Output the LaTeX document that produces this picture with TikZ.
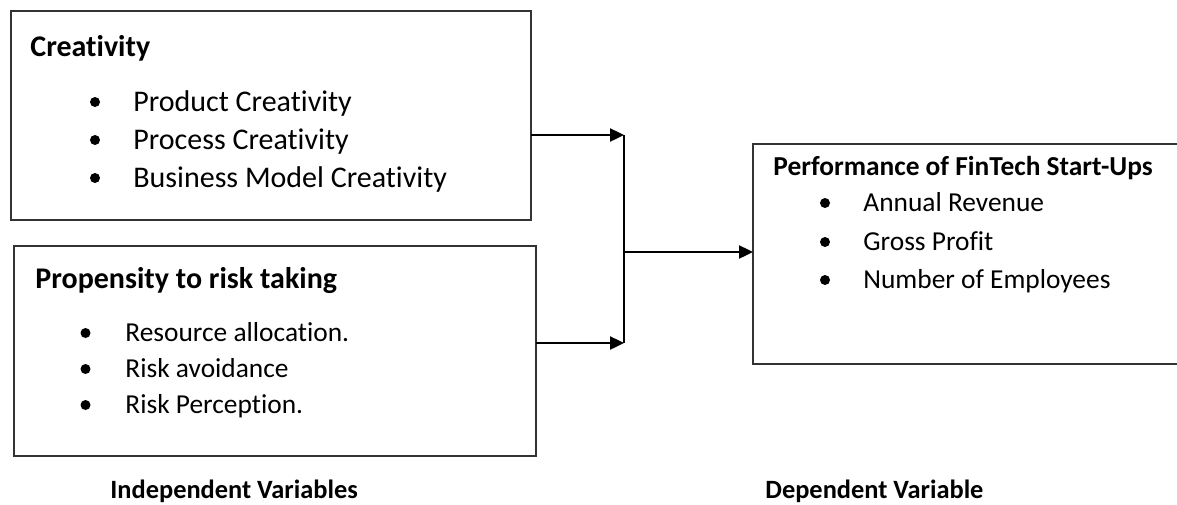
\documentclass[tikz,border=0pt]{standalone}
\usepackage{fontspec}
\setmainfont{Carlito}[Ligatures=NoCommon]
\usetikzlibrary{arrows.meta}
\newcommand\bigtxt{\fontsize{15pt}{18pt}\selectfont}
\newcommand\midtxt{\fontsize{13.7pt}{16pt}\selectfont}
\newcommand\smalltxt{\fontsize{13.2pt}{16pt}\selectfont}

\begin{document}
\begin{tikzpicture}[x=0.5pt,y=-0.5pt,
    box/.style={draw=black!80, line width=0.9pt, inner sep=0pt, outer sep=0pt},
    head/.style={anchor=base west, inner sep=0pt, font=\midtxt\bfseries},
    item/.style={anchor=base west, inner sep=0pt, font=\midtxt},
    flow/.style={line width=1.2pt, -{Triangle[length=7pt,width=6.5pt]}}]
  \useasboundingbox (0,0) rectangle (1177,504);
  \def\dotsize{5}

  \node[box, minimum width=260pt, minimum height=104.5pt] (crea) at (271,115.5) {};
  \node[box, minimum width=261pt, minimum height=105pt] (risk) at (275,351) {};
  \node[box, minimum width=230pt, minimum height=110pt] (perf) at (983,254) {};

  \node[head, font=\bigtxt\bfseries] (creaT) at (30,56) {Creativity};
  \node[item, font=\bigtxt] (creaA) at (133,111) {Product Creativity};
  \node[item, font=\bigtxt] (creaB) at (133,149) {Process Creativity};
  \node[item, font=\bigtxt] (creaC) at (133,187) {Business Model Creativity};
  \fill (95,102) circle (\dotsize) (95,140) circle (\dotsize) (95,178) circle (\dotsize);

  \node[head, font=\bigtxt\bfseries] (riskT) at (35,288) {Propensity to risk taking};
  \node[item] (riskA) at (125,341) {Resource allocation.};
  \node[item] (riskB) at (125,377) {Risk avoidance};
  \node[item] (riskC) at (125,413) {Risk Perception.};
  \fill (85.5,333) circle (\dotsize) (85.5,369) circle (\dotsize) (85.5,405) circle (\dotsize);

  \node[head] (perfT) at (773,175) {Performance of FinTech Start-Ups};
  \node[item] (perfA) at (863,211) {Annual Revenue};
  \node[item] (perfB) at (863,250) {Gross Profit};
  \node[item] (perfC) at (863,288) {Number of Employees};
  \fill (825,203) circle (\dotsize) (825,242) circle (\dotsize) (825,280) circle (\dotsize);

  \coordinate (jtop) at (624,135);
  \coordinate (jbot) at (624,343);
  \coordinate (jmid) at (624,252);
  \draw[flow] (crea.east |- jtop) -- (jtop);
  \draw[flow] (risk.east |- jbot) -- (jbot);
  \draw[line width=1.2pt] (jtop) -- (jbot);
  \draw[flow] (jmid) -- (jmid -| perf.west);

  \node[head, font=\smalltxt\bfseries] (indep) at (110,498) {Independent Variables};
  \node[head, font=\smalltxt\bfseries] (dep) at (765,498) {Dependent Variable};
\end{tikzpicture}
\end{document}
